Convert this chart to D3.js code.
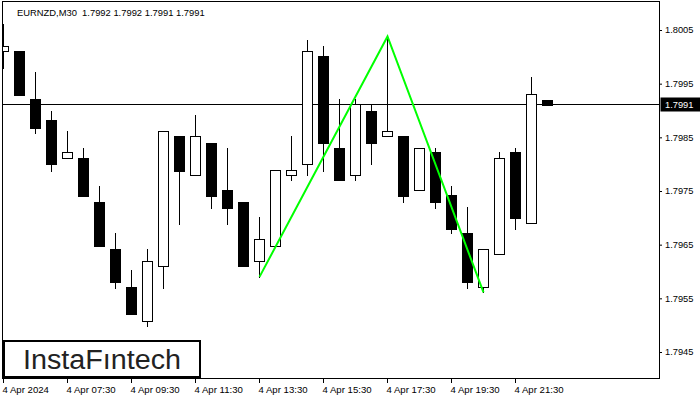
<!DOCTYPE html>
<html>
<head>
<meta charset="utf-8">
<script src="https://cdn.jsdelivr.net/npm/d3@7"></script>
<style>
  html, body { margin: 0; padding: 0; background: #fff; }
  svg { display: block; }
  text { font-family: "Liberation Sans", Arial, sans-serif; }
</style>
</head>
<body>
<svg id="chart" width="700" height="400"></svg>
<script>
// ---- data (EURNZD M30, 4 Apr 2024, bars from 05:30) ----
const openP  = [1.80010,1.80010,1.79921,1.79882,1.79811,1.79811,1.79730,1.79641,1.79572,1.79508,
                1.79611,1.79852,1.79779,1.79840,1.79751,1.79730,1.79620,1.79648,1.79779,1.79801,
                1.80001,1.79831,1.79779,1.79900,1.79852,1.79852,1.79751,1.79822,1.79742,1.79671,
                1.79572,1.79632,1.79822,1.79691,1.79920];
const highP  = [1.80061,1.80010,1.79971,1.79900,1.79861,1.79831,1.79760,1.79671,1.79602,1.79641,
                1.79861,1.79852,1.79891,1.79840,1.79831,1.79730,1.79701,1.79790,1.79852,1.80031,
                1.80021,1.79921,1.79921,1.79910,1.80038,1.79852,1.79831,1.79831,1.79760,1.79721,
                1.79641,1.79822,1.79831,1.79962,1.79920];
const lowP   = [1.79980,1.79928,1.79859,1.79788,1.79811,1.79740,1.79648,1.79570,1.79520,1.79499,
                1.79570,1.79689,1.79779,1.79719,1.79689,1.79611,1.79590,1.79648,1.79770,1.79779,
                1.79788,1.79770,1.79770,1.79801,1.79852,1.79730,1.79751,1.79719,1.79671,1.79570,
                1.79561,1.79632,1.79680,1.79691,1.79910];
const closeP = [1.80021,1.79928,1.79868,1.79801,1.79822,1.79740,1.79648,1.79581,1.79520,1.79620,
                1.79861,1.79788,1.79852,1.79740,1.79719,1.79611,1.79661,1.79790,1.79790,1.80010,
                1.79839,1.79770,1.79913,1.79839,1.79861,1.79740,1.79831,1.79729,1.79680,1.79581,
                1.79641,1.79811,1.79699,1.79930,1.79910];

const xTickIndex  = [0, 4, 8, 12, 16, 20, 24, 28, 32];
const xTickLabels = ["4 Apr 2024","4 Apr 07:30","4 Apr 09:30","4 Apr 11:30","4 Apr 13:30",
                     "4 Apr 15:30","4 Apr 17:30","4 Apr 19:30","4 Apr 21:30"];
const yTicks = [1.8005, 1.7995, 1.7985, 1.7975, 1.7965, 1.7955, 1.7945];

const patternIndex  = [16, 24, 30];
const patternValues = [1.79590, 1.80038, 1.79561];

const symbolTitle = "EURNZD,M30  1.7992 1.7992 1.7991 1.7991";
const lastPrice = 1.7991;

// ---- layout ----
const svg = d3.select("#chart");
const pLeft = 2.5, pRight = 659.5, pTop = 1.5, pBottom = 378.5;

const x = d3.scaleLinear().domain([0, 34]).range([3, 3 + 16 * 34]);
const y = d3.scaleLinear().domain([1.7945, 1.8005]).range([352, 30]);
const py = v => Math.round(y(v)) + 0.5;

svg.append("rect").attr("width", 700).attr("height", 400).attr("fill", "#fff");

svg.append("defs").append("clipPath").attr("id", "plotclip")
  .append("rect").attr("x", pLeft).attr("y", pTop).attr("width", pRight - pLeft).attr("height", pBottom - pTop);

const plot = svg.append("g").attr("clip-path", "url(#plotclip)");

// price line
plot.append("line")
  .attr("x1", pLeft).attr("x2", pRight)
  .attr("y1", py(lastPrice) - 1).attr("y2", py(lastPrice) - 1)
  .attr("stroke", "#000").attr("stroke-width", 1);

// candles
const idx = d3.range(openP.length);
const cg = plot.selectAll("g.c").data(idx).join("g").attr("class", "c");
cg.append("line")
  .attr("x1", i => x(i) + 0.5).attr("x2", i => x(i) + 0.5)
  .attr("y1", i => py(highP[i]) - 0.5).attr("y2", i => py(lowP[i]) + 0.5)
  .attr("stroke", "#000").attr("stroke-width", 1);
cg.append("rect")
  .attr("x", i => x(i) - 4.5)
  .attr("width", 10)
  .attr("y", i => py(Math.max(openP[i], closeP[i])))
  .attr("height", i => Math.max(1, py(Math.min(openP[i], closeP[i])) - py(Math.max(openP[i], closeP[i]))))
  .attr("fill", i => closeP[i] >= openP[i] ? "#fff" : "#000")
  .attr("stroke", "#000").attr("stroke-width", 1);

// pattern line
plot.append("path")
  .datum(patternIndex.map((d, k) => [d, patternValues[k]]))
  .attr("d", d3.line().x(d => x(d[0]) + 0.5).y(d => y(d[1])))
  .attr("fill", "none").attr("stroke", "#00ff00").attr("stroke-width", 2);

// frame
svg.append("rect")
  .attr("x", pLeft).attr("y", pTop).attr("width", pRight - pLeft).attr("height", pBottom - pTop)
  .attr("fill", "none").attr("stroke", "#000").attr("stroke-width", 1);

// x axis
const xAxis = svg.append("g").attr("transform", `translate(0,${pBottom - 0.5})`)
  .call(d3.axisBottom(x).tickValues(xTickIndex)
    .tickFormat((d, k) => xTickLabels[k]).tickSize(5).tickPadding(3));
xAxis.select(".domain").remove();
xAxis.selectAll("text").attr("text-anchor", "start").attr("x", -1)
  .attr("font-size", "9.6px").attr("fill", "#000")
  .attr("font-family", "'Liberation Sans', Arial, sans-serif");
xAxis.selectAll("line").attr("stroke", "#000");

// y axis
const yAxis = svg.append("g").attr("transform", `translate(${pRight - 0.5},0)`)
  .call(d3.axisRight(y).tickValues(yTicks).tickFormat(d3.format(".4f")).tickSize(3).tickPadding(3));
yAxis.select(".domain").remove();
yAxis.selectAll("text").attr("font-size", "9.3px").attr("fill", "#000")
  .attr("font-family", "'Liberation Sans', Arial, sans-serif");
yAxis.selectAll("line").attr("stroke", "#000");

// last price label
const lp = py(lastPrice) - 1;
svg.append("rect").attr("x", pRight + 1).attr("y", lp - 7).attr("width", 700 - pRight).attr("height", 14).attr("fill", "#000");
svg.append("text").attr("x", pRight + 5.5).attr("y", lp).attr("dy", "0.35em")
  .attr("font-size", "9.3px").attr("fill", "#fff").text(d3.format(".4f")(lastPrice));

// title
svg.append("text").attr("x", 17).attr("y", 16).attr("xml:space", "preserve")
  .style("white-space", "pre")
  .attr("font-size", "9.4px").attr("fill", "#000").text(symbolTitle);

// logo
svg.append("rect").attr("x", 4).attr("y", 341).attr("width", 196).attr("height", 36)
  .attr("fill", "#fff").attr("stroke", "#000").attr("stroke-width", 2);
svg.append("text").attr("x", 23).attr("y", 369)
  .attr("font-family", "Inter, 'Open Sans', sans-serif").attr("font-weight", 500)
  .attr("font-size", "27px").attr("fill", "#222")
  .attr("textLength", 158).attr("lengthAdjust", "spacingAndGlyphs")
  .text("InstaFıntech");
</script>
</body>
</html>
